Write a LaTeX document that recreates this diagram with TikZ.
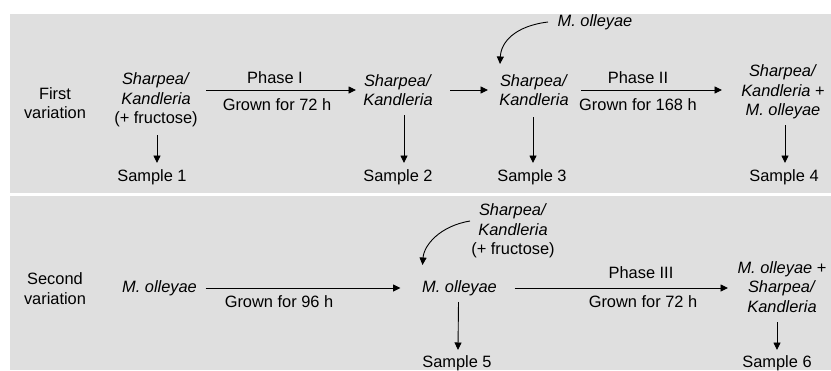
\documentclass[tikz,border=0pt]{standalone}
\usepackage{fontspec}
\setmainfont{Liberation Sans}
\usetikzlibrary{arrows.meta}
\begin{document}
\begin{tikzpicture}[x=1pt,y=-1pt,
  txt/.style={align=center,inner sep=0pt,font=\fontsize{16.4}{19.6}\selectfont},
  arr/.style={line width=0.9pt,-{Triangle[length=7.5pt,width=7pt]}},
  panel/.style={fill=gray!25,draw=none}]
\useasboundingbox (0,0) rectangle (831,370);
\fill[white] (0,0) rectangle (831,370);
\path[panel] (10,14) rectangle (831,193);
\path[panel] (10,196) rectangle (831,370);
% Row 1
\node[txt] (v1) at (55,103) {First\\variation};
\node[txt] (n1) at (156,100) {\textit{Sharpea/}\\\textit{Kandleria}\\(+ fructose)};
\node[txt] (n2) at (398,90) {\textit{Sharpea/}\\\textit{Kandleria}};
\node[txt] (n3) at (534,90) {\textit{Sharpea/}\\\textit{Kandleria}};
\node[txt] (n4) at (783,92) {\textit{Sharpea/}\\\textit{Kandleria} +\\\textit{M. olleyae}};
\node[txt] (m0) at (595,22) {\textit{M. olleyae}};
\node[txt] (p1) at (275,78) {Phase I};
\node[txt] (g1) at (277,105) {Grown for 72 h};
\node[txt] (p2) at (638,78) {Phase II};
\node[txt] (g2) at (638,105) {Grown for 168 h};
\node[txt] (s1) at (152,177) {Sample 1};
\node[txt] (s2) at (398,177) {Sample 2};
\node[txt] (s3) at (532,177) {Sample 3};
\node[txt] (s4) at (784,177) {Sample 4};
\draw[arr] ([shift={(50,0)}]n1.center |- n2.center) -- ([shift={(-42,0)}]n2.center);
\draw[arr] ([shift={(52,0)}]n2.center) -- ([shift={(-46,0)}]n3.center);
\draw[arr] ([shift={(47,0)}]n3.center) -- ([shift={(-61,-2)}]n4.center);
\draw[arr] ([shift={(-47,0)}]m0.center) .. controls (515,26) and (501,42) .. ([shift={(-34,-26)}]n3.center);
\draw[arr] ([shift={(1,35)}]n1.center) -- ([shift={(5,-14)}]s1.center);
\draw[arr] ([shift={(6,25)}]n2.center) -- ([shift={(6,-14)}]s2.center);
\draw[arr] ([shift={(-1,27)}]n3.center) -- ([shift={(1,-14)}]s3.center);
\draw[arr] ([shift={(2,33)}]n4.center) -- ([shift={(1,-14)}]s4.center);
% Row 2
\node[txt] (v2) at (55,288.5) {Second\\variation};
\node[txt] (m1) at (159.5,288) {\textit{M. olleyae}};
\node[txt] (m2) at (459.5,288) {\textit{M. olleyae}};
\node[txt] (k2) at (513,231) {\textit{Sharpea/}\\\textit{Kandleria}\\(+ fructose)};
\node[txt] (n6) at (782,287) {\textit{M. olleyae} +\\\textit{Sharpea/}\\\textit{Kandleria}};
\node[txt] (g3) at (279,302) {Grown for 96 h};
\node[txt] (p3) at (641,273) {Phase III};
\node[txt] (g4) at (643,302) {Grown for 72 h};
\node[txt] (s5) at (457,363) {Sample 5};
\node[txt] (s6) at (777,363) {Sample 6};
\draw[arr] ([shift={(46,0)}]m1.center) -- ([shift={(-59,0)}]m2.center);
\draw[arr] ([shift={(55,0)}]m2.center) -- ([shift={(-54,1)}]n6.center);
\draw[arr] ([shift={(-43,-10)}]k2.center) .. controls (440,226) and (424,245) .. ([shift={(-37,-23)}]m2.center);
\draw[arr] ([shift={(-1,14)}]m2.center) -- ([shift={(1,-13)}]s5.center);
\draw[arr] ([shift={(-5,35)}]n6.center) -- ([shift={(0,-13)}]s6.center);
\end{tikzpicture}
\end{document}
